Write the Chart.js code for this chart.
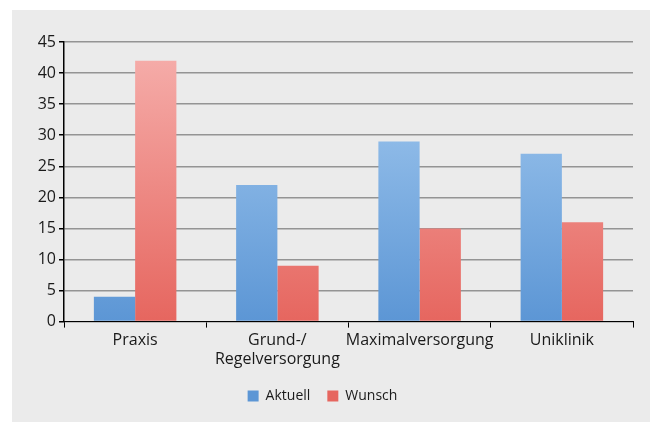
<!DOCTYPE html>
<html>
<head>
<meta charset="utf-8">
<script src="https://cdn.jsdelivr.net/npm/chart.js@4/dist/chart.umd.min.js"></script>
<style>
    html, body { margin: 0; padding: 0; background: #ffffff; }
    #panel { position: absolute; left: 12px; top: 10px; width: 638px; height: 412px; background: #ebebeb; }
    #myCanvas { display: block; }
</style>
</head>
<body>
<div id="panel"><canvas id="myCanvas" width="638" height="412"></canvas></div>
<script>
const categories = ["Praxis", ["Grund-/", "Regelversorgung"], "Maximalversorgung", "Uniklinik"];
const aktuell = [4, 22, 29, 27];
const wunsch = [42, 9, 15, 16];
const yTicks = [0, 5, 10, 15, 20, 25, 30, 35, 40, 45];

const chartCanvas = document.getElementById("myCanvas");

// vertical gradient over the plot area, light on top
function barGradient(context, top, bottom) {
    const area = context.chart.chartArea;
    if (!area) return bottom;
    const g = context.chart.ctx.createLinearGradient(0, area.top, 0, area.bottom);
    g.addColorStop(0, top);
    g.addColorStop(1, bottom);
    return g;
}

const fontName = "'Open Sans', sans-serif";

let myChart = new Chart(chartCanvas, {
    type: "bar",
    data: {
        labels: categories,
        datasets: [
            {
                label: "Aktuell",
                data: aktuell,
                backgroundColor: (c) => barGradient(c, "#a8cdf1", "#5c96d5"),
                borderWidth: 0
            },
            {
                label: "Wunsch",
                data: wunsch,
                backgroundColor: (c) => barGradient(c, "#f6b0ad", "#e6665f"),
                borderWidth: 0
            }
        ]
    },
    options: {
        responsive: false,
        animation: false,
        layout: { padding: { left: 0, right: 17, top: 32, bottom: 9 } },
        datasets: { bar: { categoryPercentage: 0.58, barPercentage: 1.0 } },
        scales: {
            x: {
                grid: { display: true, drawOnChartArea: false, tickLength: 6, color: "#000", offset: true },
                border: { color: "#000", width: 1 },
                ticks: { color: "#1a1a1a", font: { family: fontName, size: 16, lineHeight: 1.2 }, maxRotation: 0, autoSkip: false, padding: 3 }
            },
            y: {
                min: 0,
                max: 45,
                afterBuildTicks: (scale) => { scale.ticks = yTicks.map(v => ({ value: v })); },
                afterFit: (scale) => { scale.width = 52; },
                grid: { color: "#949494", lineWidth: 1.5, tickLength: 5, tickColor: "#000" },
                border: { color: "#000", width: 1.5 },
                ticks: { color: "#1a1a1a", font: { family: fontName, size: 16 }, padding: 3 }
            }
        },
        plugins: {
            tooltip: { enabled: false },
            legend: {
                position: "bottom",
                labels: {
                    color: "#1a1a1a",
                    font: { family: fontName, size: 14 },
                    boxWidth: 11,
                    boxHeight: 11,
                    padding: 17
                }
            }
        }
    }
});
</script>
</body>
</html>
